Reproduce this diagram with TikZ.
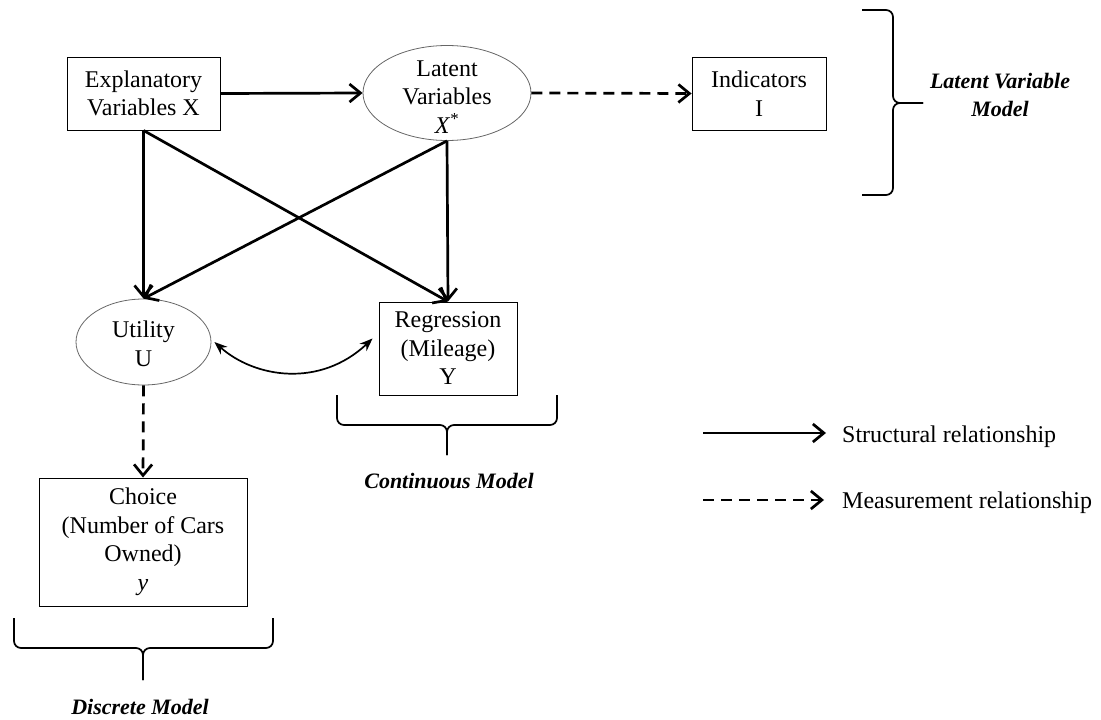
\documentclass[tikz,border=0pt]{standalone}
\usepackage{fontspec}
\setmainfont{Liberation Serif}
\usetikzlibrary{arrows.meta,shapes.geometric}
\begin{document}
\begin{tikzpicture}[x=1pt,y=-1pt,
  every node/.style={font=\fontsize{24}{28.5}\selectfont, align=center, inner sep=0pt},
  box/.style={draw=black, line width=0.9pt, rectangle},
  oval/.style={draw=black!60, line width=0.8pt, ellipse},
  struct/.style={line width=2.7pt, -{Straight Barb[length=11pt,width=18pt]}},
  measure/.style={line width=2.7pt, dash pattern=on 11pt off 7pt, -{Straight Barb[length=11pt,width=18pt]}},
  curvy/.style={line width=1.7pt, {Stealth[length=13pt,width=10pt]}-{Stealth[length=13pt,width=10pt]}},
  brc/.style={line width=1.7pt, rounded corners=7pt},
  lbl/.style={font=\fontsize{22}{28}\selectfont\bfseries\itshape}
]
\useasboundingbox (0,0) rectangle (1101,720);

% nodes
\node[box, minimum width=153pt, minimum height=73pt] (expl) at (143.5,93.5) {Explanatory\\Variables X};
\node[oval, minimum width=168pt, minimum height=95pt] (lat) at (447,93) {};
\node (latT) at (447,97) {Latent\\Variables\\\textit{X}\textsuperscript{*}};
\node[box, minimum width=134pt, minimum height=73pt] (ind) at (759,93.5) {Indicators\\I};
\node[oval, minimum width=135pt, minimum height=86pt] (util) at (143.5,342) {};
\node (utilT) at (143.5,344) {Utility\\U};
\node[box, minimum width=138pt, minimum height=93pt] (reg) at (448,348.5) {Regression\\(Mileage)\\Y};
\node[box, minimum width=208pt, minimum height=128pt] (choice) at (143,542) {Choice\\(Number of Cars\\Owned)\\\textit{y}};

% connectors
\draw[struct] (expl.east) -- (lat.west);
\draw[measure] (lat.east) -- (ind.west);
\draw[struct] (expl.south) -- (util.north);
\draw[struct] (expl.south) -- (reg.north);
\draw[struct] (lat.south) -- (reg.north);
\draw[struct] (lat.south) -- (util.north);
\draw[measure] (util.south) -- (choice.north);
\draw[curvy] ([xshift=3pt]util.east) .. controls (255,378) and (320,388) .. ([xshift=-6pt,yshift=10pt]reg.west);

% braces
\draw[brc] (862,10) -- (893,10) -- (893,103) -- (923,103);
\draw[brc] (862,195) -- (893,195) -- (893,103) -- (923,103);
\draw[brc] (337,395) -- (337,425) -- (447,425) -- (447,455);
\draw[brc] (557,395) -- (557,425) -- (447,425) -- (447,455);
\draw[brc] (14,618) -- (14,648) -- (143,648) -- (143,680);
\draw[brc] (273,618) -- (273,648) -- (143,648) -- (143,680);

% brace labels
\node[lbl] (lvm) at (1000,95) {Latent Variable\\Model};
\node[lbl] (cm) at (449,481) {Continuous Model};
\node[lbl] (dm) at (140,707) {Discrete Model};

% legend
\coordinate (s1) at (703,433);
\coordinate (s2) at (826,433);
\coordinate (m1) at (703,500);
\coordinate (m2) at (824,500);
\draw[struct] (s1) -- (s2);
\draw[measure] (m1) -- (m2);
\node[anchor=base west] (stxt) at (842,442) {Structural relationship};
\node[anchor=base west] (mtxt) at (842,508) {Measurement relationship};
\end{tikzpicture}
\end{document}
